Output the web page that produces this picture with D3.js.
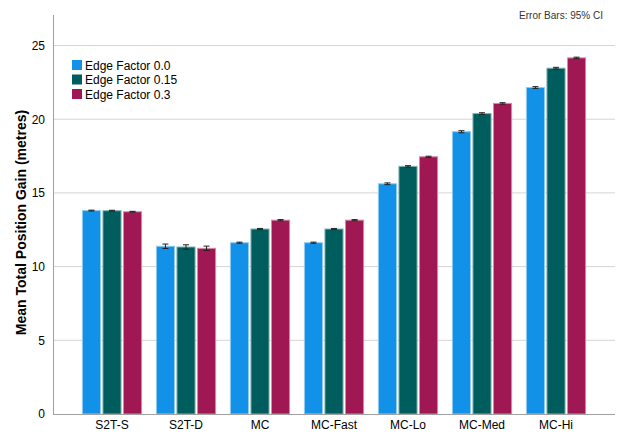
<!DOCTYPE html>
<html>
<head>
<meta charset="utf-8">
<script src="https://cdn.jsdelivr.net/npm/d3@7"></script>
<style>
  body { margin: 0; background: #fff; }
  svg { font-family: Arial, "Liberation Sans", sans-serif; }
</style>
</head>
<body>
<div id="chart"></div>
<script>
// data
const categories = ["S2T-S", "S2T-D", "MC", "MC-Fast", "MC-Lo", "MC-Med", "MC-Hi"];
const seriesNames = ["Edge Factor 0.0", "Edge Factor 0.15", "Edge Factor 0.3"];
const ef00 = [13.80, 11.38, 11.62, 11.62, 15.62, 19.15, 22.15];
const ef015 = [13.79, 11.33, 12.55, 12.55, 16.80, 20.38, 23.46];
const ef03 = [13.72, 11.24, 13.15, 13.15, 17.45, 21.07, 24.16];
const ci00 = [0.03, 0.15, 0.04, 0.04, 0.06, 0.07, 0.06];
const ci015 = [0.03, 0.15, 0.04, 0.04, 0.05, 0.06, 0.06];
const ci03 = [0.03, 0.15, 0.04, 0.04, 0.04, 0.05, 0.05];
const yTicks = [0, 5, 10, 15, 20, 25];

const colors = ["#1192e8", "#005d5d", "#9f1853"];
const strokes = ["#8fcaf3", "#7fb0b0", "#d08ca8"];

const width = 622, height = 433;
const padLeft = 53, padTop = 15, axisBottom = 414, padRight = 615;

const svg = d3.select("#chart").append("svg")
    .attr("width", width)
    .attr("height", height);

// scales
// ------------------------------------------------------
let yScale = d3.scaleLinear()
    .domain([0, 25])
    .range([axisBottom, 45.5]);

let xScale = d3.scaleBand()
    .domain(categories)
    .range([75, 593])
    .paddingInner(0.2)
    .paddingOuter(0.1);

let xSub = d3.scaleBand()
    .domain(d3.range(3))
    .range([0, xScale.bandwidth()])
    .paddingInner(0.12);

// gridlines
svg.append("g")
    .selectAll("line")
    .data(yTicks.filter(d => d > 0))
    .join("line")
        .attr("x1", padLeft)
        .attr("x2", padRight)
        .attr("y1", d => yScale(d))
        .attr("y2", d => yScale(d))
        .attr("stroke", "#d4d4d4")
        .attr("stroke-width", 1);

// bars
// ------------------------------------------------------
const values = [ef00, ef015, ef03];
const cis = [ci00, ci015, ci03];
const rows = [];
categories.forEach((c, i) => {
    values.forEach((s, j) => {
        rows.push({cat: c, k: j, v: s[i], e: cis[j][i]});
    });
});

svg.append("g")
    .selectAll("rect")
    .data(rows)
    .join("rect")
        .attr("x", d => xScale(d.cat) + xSub(d.k))
        .attr("y", d => yScale(d.v))
        .attr("width", xSub.bandwidth())
        .attr("height", d => axisBottom - yScale(d.v))
        .attr("fill", d => colors[d.k])
        .attr("stroke", d => strokes[d.k])
        .attr("stroke-width", 1);

// error bars
let eb = svg.append("g")
    .selectAll("g")
    .data(rows)
    .join("g")
        .attr("transform", d => `translate(${xScale(d.cat) + xSub(d.k) + xSub.bandwidth() / 2},0)`)
        .attr("stroke", "#222")
        .attr("stroke-width", 1);
eb.append("line")
    .attr("y1", d => yScale(d.v - d.e))
    .attr("y2", d => yScale(d.v + d.e));
eb.append("line")
    .attr("x1", -3).attr("x2", 3)
    .attr("y1", d => yScale(d.v + d.e))
    .attr("y2", d => yScale(d.v + d.e));
eb.append("line")
    .attr("x1", -3).attr("x2", 3)
    .attr("y1", d => yScale(d.v - d.e))
    .attr("y2", d => yScale(d.v - d.e));

// axes
// ------------------------------------------------------
let leftAxis = svg.append("g")
    .attr("transform", `translate(${padLeft},0)`)
    .call(d3.axisLeft(yScale).tickValues(yTicks).tickSize(0).tickPadding(8));
leftAxis.select(".domain").remove();
leftAxis.selectAll("text")
    .attr("font-size", 12)
    .attr("font-family", "Arial, 'Liberation Sans', sans-serif")
    .attr("fill", "#000");

svg.append("line")
    .attr("x1", padLeft + 0.5).attr("x2", padLeft + 0.5)
    .attr("y1", padTop).attr("y2", axisBottom)
    .attr("stroke", "#a0a0a0");

let bottomAxis = svg.append("g")
    .attr("transform", `translate(0,${axisBottom})`)
    .call(d3.axisBottom(xScale).tickSize(0).tickPadding(6));
bottomAxis.select(".domain").remove();
bottomAxis.selectAll("text")
    .attr("font-size", 12)
    .attr("font-family", "Arial, 'Liberation Sans', sans-serif")
    .attr("fill", "#000");

svg.append("line")
    .attr("x1", padLeft).attr("x2", padRight)
    .attr("y1", axisBottom + 0.5).attr("y2", axisBottom + 0.5)
    .attr("stroke", "#a0a0a0");

// axis title
svg.append("text")
    .attr("transform", `translate(26,${(padTop + axisBottom) / 2 + 8}) rotate(-90)`)
    .attr("text-anchor", "middle")
    .attr("font-size", 14)
    .attr("font-weight", "bold")
    .text("Mean Total Position Gain (metres)");

svg.append("text")
    .attr("x", 603)
    .attr("y", 19)
    .attr("text-anchor", "end")
    .attr("font-size", 10)
    .attr("fill", "#333")
    .text("Error Bars: 95% CI");

// legend
let legend = svg.append("g")
    .selectAll("g")
    .data(seriesNames)
    .join("g")
        .attr("transform", (d, i) => `translate(72,${60 + i * 14.5})`);
legend.append("rect")
    .attr("width", 10)
    .attr("height", 10)
    .attr("fill", (d, i) => colors[i]);
legend.append("text")
    .attr("x", 13)
    .attr("y", 9.5)
    .attr("font-size", 12)
    .text(d => d);
</script>
</body>
</html>
